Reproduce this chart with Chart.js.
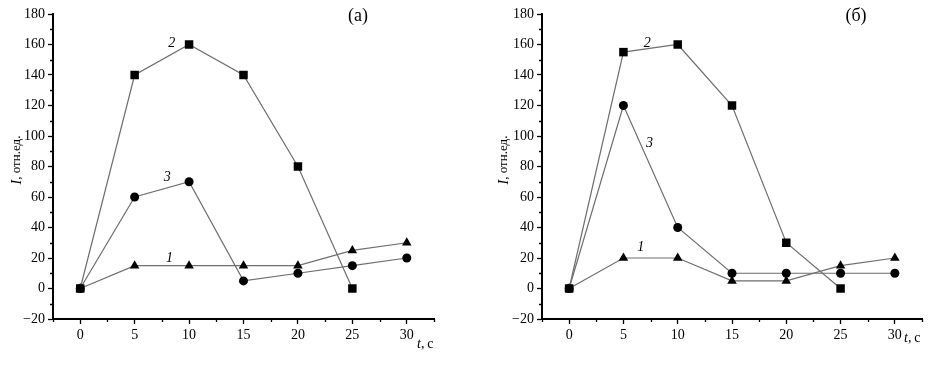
<!DOCTYPE html>
<html>
<head>
<meta charset="utf-8">
<script src="https://cdn.jsdelivr.net/npm/chart.js@4/dist/chart.umd.min.js"></script>
<style>
body{margin:0;background:#fff}
.panel{position:absolute;top:0;width:467px;height:366px}
</style>
</head>
<body>
<div class="panel" style="left:0"><canvas id="chartA" width="467" height="366"></canvas></div>
<div class="panel" style="left:467px"><canvas id="chartB" width="467" height="366"></canvas></div>
<script>
// time points, s
var times = [0, 5, 10, 15, 20, 25, 30]

// panel (a)
var a_curve1 = [0, 15, 15, 15, 15, 25, 30]
var a_curve2 = [0, 140, 160, 140, 80, 0]
var a_curve3 = [0, 60, 70, 5, 10, 15, 20]

// panel (б)
var b_curve1 = [0, 20, 20, 5, 5, 15, 20]
var b_curve2 = [0, 155, 160, 120, 30, 0]
var b_curve3 = [0, 120, 40, 10, 10, 10, 10]

var xTicks = [0, 5, 10, 15, 20, 25, 30]
var yTicks = [-20, 0, 20, 40, 60, 80, 100, 120, 140, 160, 180]

// curve number labels, in data coordinates
var a_numbers = [{t:'2', x:8.4, y:161}, {t:'3', x:8.0, y:73}, {t:'1', x:8.2, y:20}]
var b_numbers = [{t:'2', x:7.2, y:161}, {t:'3', x:7.4, y:95}, {t:'1', x:6.6, y:27}]

var serif = "'Liberation Serif', 'Times New Roman', serif"

function toPoints(ys){
    var pts = []
    for (var i = 0; i < ys.length; i++) pts.push({x: times[i], y: ys[i]})
    return pts
}

function series(ys, style, r){
    return {
        data: toPoints(ys),
        borderColor: '#6e6e6e',
        borderWidth: 1.2,
        pointStyle: style,
        pointRadius: r,
        pointBackgroundColor: '#000',
        pointBorderColor: '#000',
        pointBorderWidth: 0,
        showLine: true,
        tension: 0
    }
}

var extras = {
    id: 'extras',
    afterDraw: function(chart, args, opts){
        var ctx = chart.ctx
        var xs = chart.scales.x, ys = chart.scales.y
        var area = chart.chartArea
        ctx.save()
        // minor ticks
        ctx.strokeStyle = '#000'
        ctx.lineWidth = 1.3
        ctx.beginPath()
        for (var v = -10; v < 180; v += 20) {
            var py = Math.round(ys.getPixelForValue(v)) + 0.5
            ctx.moveTo(area.left - 3, py); ctx.lineTo(area.left, py)
        }
        for (var t = -2.5; t <= 32.5; t += 5) {
            var px = Math.round(xs.getPixelForValue(t)) + 0.5
            ctx.moveTo(px, area.bottom); ctx.lineTo(px, area.bottom + 3)
        }
        ctx.stroke()

        // curve numbers
        ctx.fillStyle = '#000'
        ctx.textAlign = 'center'
        ctx.textBaseline = 'middle'
        ctx.font = 'italic 14px ' + serif
        opts.numbers.forEach(function(n){
            ctx.fillText(n.t, xs.getPixelForValue(n.x), ys.getPixelForValue(n.y))
        })

        // panel title
        ctx.font = '18px ' + serif
        ctx.fillText(opts.title, opts.titleX, 16)

        // x axis title
        ctx.textAlign = 'left'
        ctx.font = 'italic 14px ' + serif
        var w = ctx.measureText('t').width
        ctx.fillText('t', opts.tX, opts.tY)
        ctx.font = '14px ' + serif
        ctx.fillText(',\u2009с', opts.tX + w, opts.tY)

        // y axis title
        ctx.translate(opts.yTitleX, 160)
        ctx.rotate(-Math.PI / 2)
        ctx.textAlign = 'left'
        ctx.font = 'italic 14px ' + serif
        var iw = ctx.measureText('I').width
        ctx.font = '13px ' + serif
        var full = iw + ctx.measureText(', отн.ед.').width
        ctx.font = 'italic 14px ' + serif
        ctx.fillText('I', -full / 2, 0)
        ctx.font = '13px ' + serif
        ctx.fillText(', отн.ед.', -full / 2 + iw, 0)
        ctx.restore()
    }
}

function makeChart(id, c1, c2, c3, yAxisWidth, padRight, opts){
    return new Chart(document.getElementById(id).getContext('2d'), {
        type: 'scatter',
        data: {
            datasets: [
                series(c2, 'rect', 6),
                series(c3, 'circle', 4.5),
                series(c1, 'triangle', 5.5)
            ]
        },
        options: {
            responsive: false,
            animation: false,
            layout: {padding: {top: 14, right: padRight, bottom: 0, left: 0}},
            plugins: {legend: {display: false}, tooltip: {enabled: false}, extras: opts},
            scales: {
                x: {
                    type: 'linear',
                    min: -2.5,
                    max: 32.5,
                    afterBuildTicks: function(s){ s.ticks = xTicks.map(function(v){ return {value: v} }) },
                    afterFit: function(s){ s.height = 47 },
                    border: {display: true, color: '#000', width: 2},
                    grid: {drawOnChartArea: false, drawTicks: true, tickLength: 5, tickColor: '#000', tickWidth: 1.3},
                    ticks: {color: '#000', padding: 3, font: {family: serif, size: 14}}
                },
                y: {
                    min: -20,
                    max: 180,
                    afterBuildTicks: function(s){ s.ticks = yTicks.map(function(v){ return {value: v} }) },
                    afterFit: function(s){ s.width = yAxisWidth },
                    border: {display: true, color: '#000', width: 2},
                    grid: {drawOnChartArea: false, drawTicks: true, tickLength: 5, tickColor: '#000', tickWidth: 1.3},
                    ticks: {
                        color: '#000', padding: 3, font: {family: serif, size: 14},
                        callback: function(v){ return v < 0 ? '\u2212' + (-v) : v }
                    }
                }
            }
        },
        plugins: [extras]
    })
}

makeChart('chartA', a_curve1, a_curve2, a_curve3, 53, 33,
    {numbers: a_numbers, title: '(a)', titleX: 358, tX: 417, tY: 344, yTitleX: 17})
makeChart('chartB', b_curve1, b_curve2, b_curve3, 75, 12,
    {numbers: b_numbers, title: '(б)', titleX: 389, tX: 437, tY: 338, yTitleX: 504 - 467})
</script>
</body>
</html>
